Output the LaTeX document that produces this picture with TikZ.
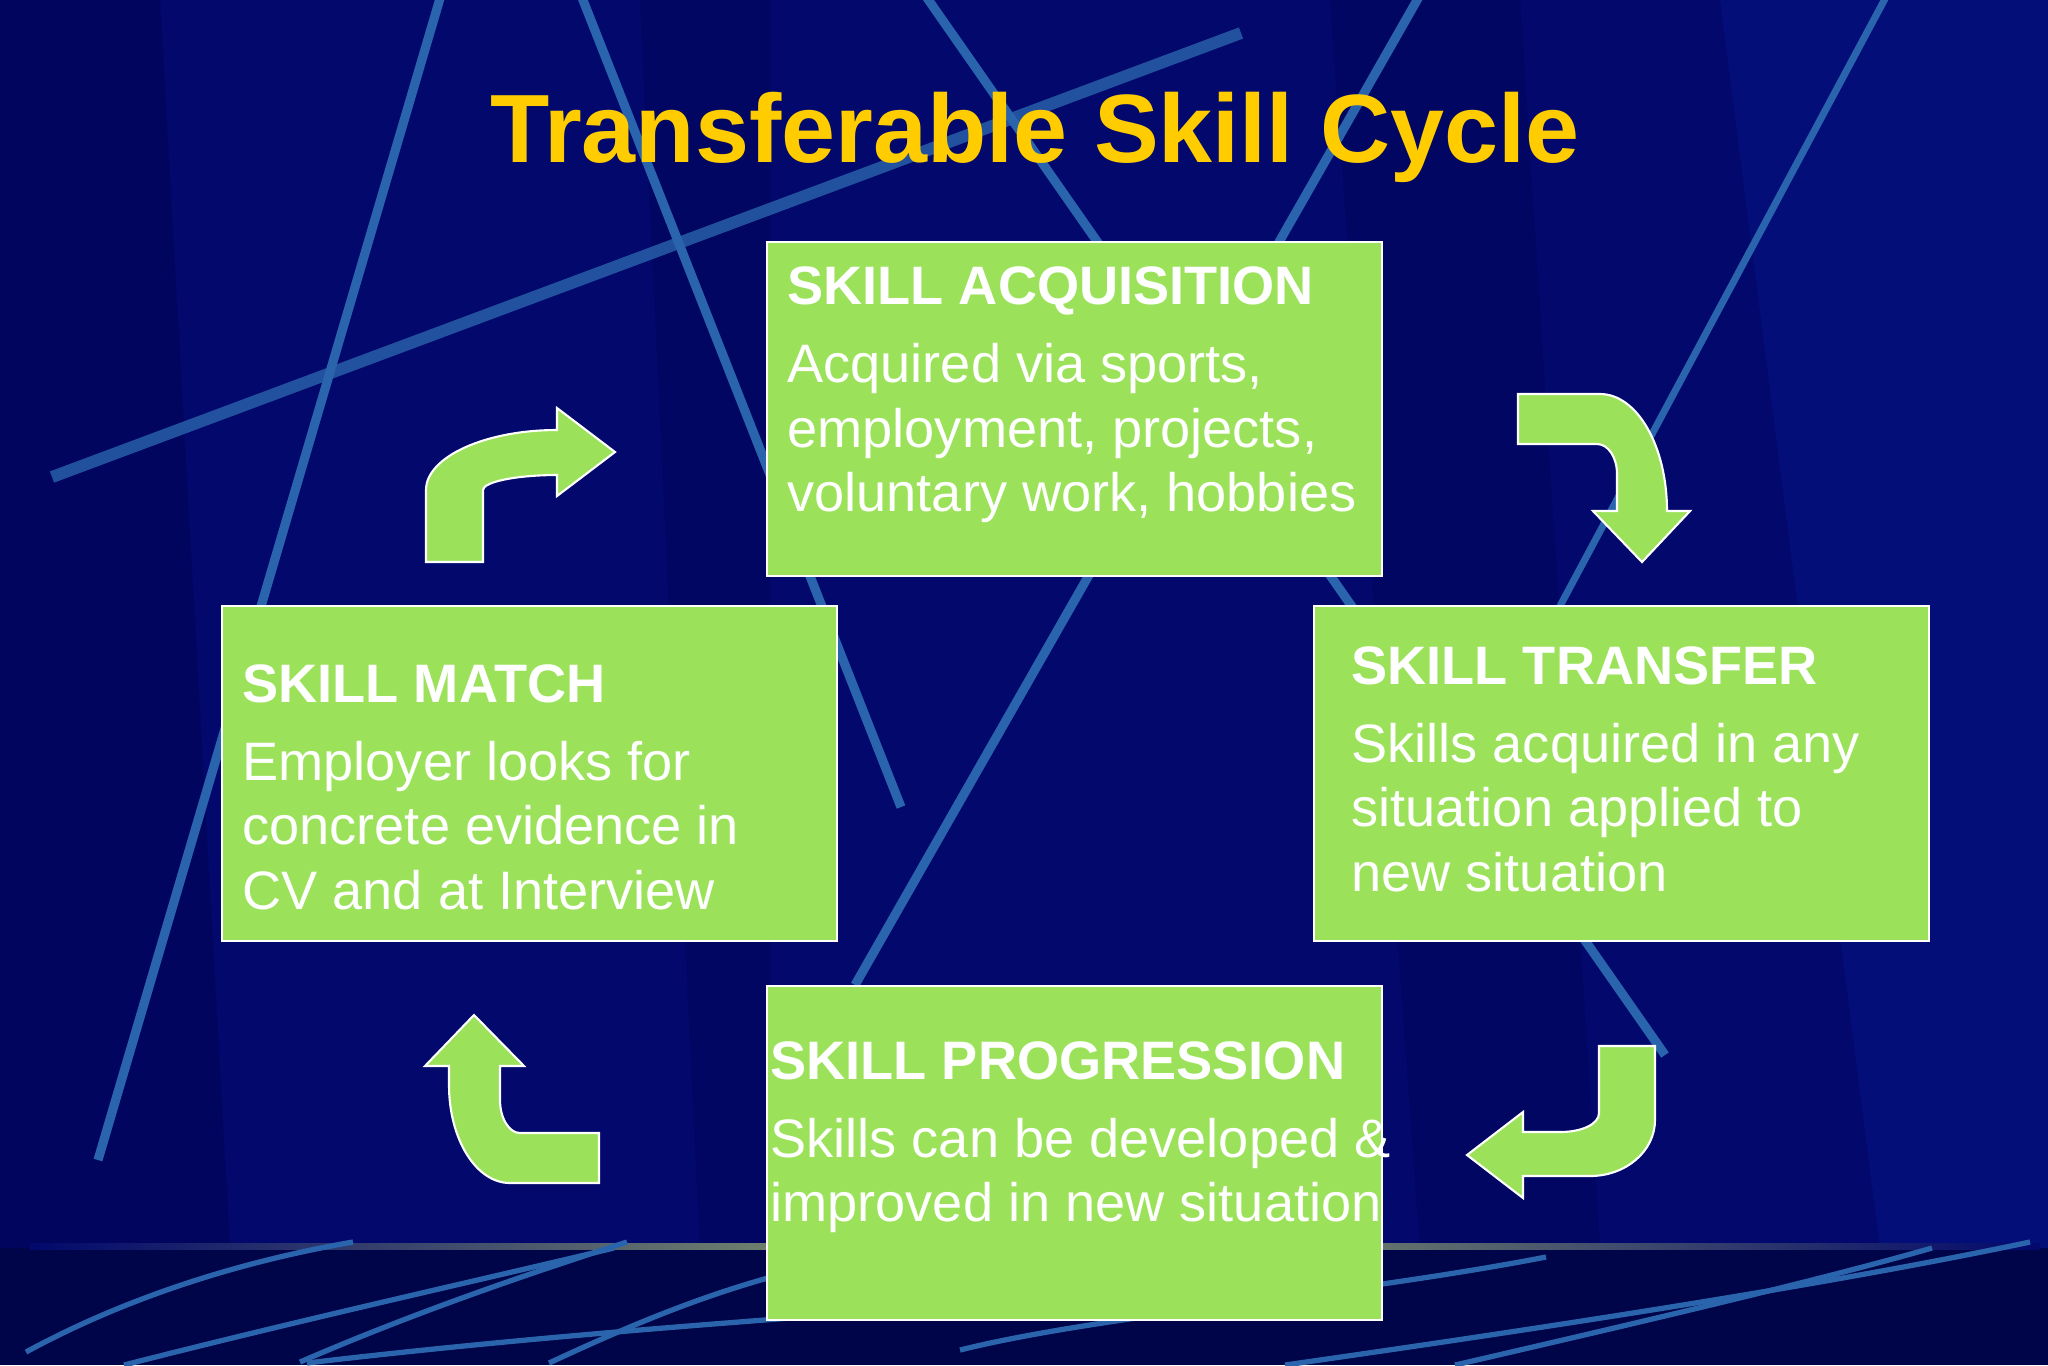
\documentclass[tikz,border=0pt]{standalone}
\usepackage{fontspec}
\setmainfont{Liberation Sans}
\usepackage{tikz}
\usetikzlibrary{positioning}
\usepackage{xcolor}
\definecolor{skbg}{RGB}{2,8,108}
\definecolor{skdark}{RGB}{0,2,70}
\definecolor{skband}{RGB}{0,4,72}
\definecolor{sklight}{RGB}{10,30,150}
\definecolor{skline}{RGB}{42,100,172}
\definecolor{skgold}{RGB}{255,204,0}
\definecolor{skgreen}{RGB}{155,226,90}
\definecolor{skhorizon}{RGB}{150,170,110}
\tikzstyle{bgline} = [draw=skline, line width=2.6pt]
\tikzstyle{floorline} = [draw=skline, line width=1.5pt]
\tikzstyle{skillbox} = [rectangle, draw=white, line width=0.6pt, fill=skgreen, minimum width=6.15cm, minimum height=3.34cm, inner sep=0pt]
\tikzstyle{skilltext} = [anchor=base west, align=left, inner sep=0pt, text=white, font=\fontsize{15.4}{18.35}\selectfont]
\tikzstyle{bentarrow} = [fill=skgreen, draw=white, line width=0.6pt]

\begin{document}
\begin{tikzpicture}[x=0.01cm, y=-0.01cm]
\useasboundingbox (0,0) rectangle (2048,1365);
% background
\fill[skbg] (0,0) rectangle (2048,1248);
\fill[skdark, opacity=0.35] (0,0) -- (160,0) -- (230,1248) -- (0,1248) -- cycle;
\fill[skdark, opacity=0.25] (640,0) -- (770,0) -- (770,1248) -- (700,1248) -- cycle;
\fill[skdark, opacity=0.25] (1330,0) -- (1520,0) -- (1600,1248) -- (1420,1248) -- cycle;
\fill[sklight, opacity=0.3] (1720,0) -- (2048,0) -- (2048,1248) -- (1880,1248) -- cycle;
\fill[skband] (0,1248) rectangle (2048,1365);
\shade[left color=skbg, right color=skbg, middle color=skhorizon] (30,1243) rectangle (2040,1249);

% slanted lines
\draw[bgline] (441,-5) -- (98,1160);
\draw[bgline] (581,-5) -- (901,807);
\draw[bgline, line width=3.4pt, opacity=0.8] (52,477) -- (1241,33);
\draw[bgline] (925,-5) -- (1665,1055);
\draw[bgline] (1420,-5) -- (855,985);
\draw[bgline, line width=2pt] (1887,-5) -- (1560,606);

% floor curves
\draw[floorline] (26,1352) .. controls (140,1290) and (260,1258) .. (353,1242);
\draw[floorline] (124,1365) .. controls (300,1320) and (480,1280) .. (614,1248);
\draw[floorline] (300,1362) .. controls (420,1310) and (540,1270) .. (627,1242);
\draw[floorline] (307,1363) .. controls (500,1340) and (700,1325) .. (790,1318);
\draw[floorline] (549,1363) .. controls (620,1330) and (700,1295) .. (790,1272);
\draw[floorline] (960,1350) .. controls (1100,1315) and (1350,1295) .. (1546,1257);
\draw[floorline] (1285,1365) .. controls (1600,1320) and (1850,1280) .. (2030,1242);
\draw[floorline] (1455,1365) .. controls (1650,1320) and (1820,1280) .. (1932,1248);

% title
\node[anchor=base, text=skgold, font=\fontsize{27.6}{33}\selectfont\bfseries] (title) at (1035,162) {Transferable Skill Cycle};

% boxes
\node[skillbox] (acq) at (1074.5,409) {};
\node[skillbox] (match) at (529.5,773.5) {};
\node[skillbox] (transfer) at (1621.5,773.5) {};
\node[skillbox] (prog) at (1074.5,1153) {};

% texts, anchored at the baseline of their last line
\node[skilltext] (acqtxt) at ([shift={(21,271)}]acq.north west)
  {\textbf{SKILL ACQUISITION}\\[3.85pt] Acquired via sports,\\ employment, projects,\\ voluntary work, hobbies};
\node[skilltext] (matchtxt) at ([shift={(21,304)}]match.north west)
  {\textbf{SKILL MATCH}\\[3.85pt] Employer looks for\\ concrete evidence in\\ CV and at Interview};
\node[skilltext] (transfertxt) at ([shift={(38,286)}]transfer.north west)
  {\textbf{SKILL TRANSFER}\\[3.85pt] Skills acquired in any\\ situation applied to\\ new situation};
\node[skilltext] (progtxt) at ([shift={(4,237)}]prog.north west)
  {\textbf{SKILL PROGRESSION}\\[3.85pt] Skills can be developed \&\\ improved in new situation};

% bent arrows
\draw[bentarrow] (426,562) -- (426,490) .. controls (426,457) and (485,430) .. (557,430)
  -- (557,408) -- (615,452) -- (557,496) -- (557,475)
  .. controls (516,475) and (483,482) .. (483,490) -- (483,562) -- cycle;
\draw[bentarrow] (1518,394) -- (1600,394) .. controls (1637,394) and (1667,446) .. (1667,511)
  -- (1690,511) -- (1642,562) -- (1593,511) -- (1617,511) -- (1617,474)
  .. controls (1617,457) and (1608,444) .. (1597,444) -- (1518,444) -- cycle;
\draw[bentarrow] (599,1133) -- (520,1133) .. controls (509,1133) and (500,1118) .. (500,1100)
  -- (500,1066) -- (524,1066) -- (474,1015) -- (425,1066) -- (449,1066) -- (449,1085)
  .. controls (449,1139) and (476,1183) .. (510,1183) -- (599,1183) -- cycle;
\draw[bentarrow] (1599,1046) -- (1655,1046) -- (1655,1120) .. controls (1655,1151) and (1626,1176) .. (1590,1176)
  -- (1523,1176) -- (1523,1198) -- (1467,1155) -- (1523,1112) -- (1523,1132) -- (1560,1132)
  .. controls (1582,1132) and (1599,1124) .. (1599,1113) -- cycle;
\end{tikzpicture}
\end{document}
